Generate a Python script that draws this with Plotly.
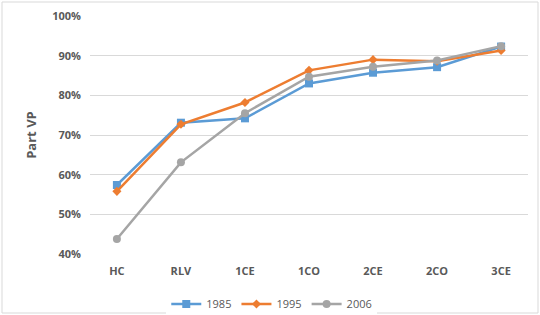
import plotly.graph_objects as go

categories = ["HC", "RLV", "1CE", "1CO", "2CE", "2CO", "3CE"]
s1985 = [0.574, 0.731, 0.742, 0.830, 0.857, 0.871, 0.923]
s1995 = [0.558, 0.727, 0.782, 0.863, 0.890, 0.886, 0.913]
s2006 = [0.438, 0.631, 0.755, 0.847, 0.872, 0.888, 0.924]
y_ticks = [0.4, 0.5, 0.6, 0.7, 0.8, 0.9, 1.0]

series = [
    ("1985", s1985, "#5B9BD5", "square", 8),
    ("1995", s1995, "#ED7D31", "diamond", 7),
    ("2006", s2006, "#A5A5A5", "circle", 8),
]

fig = go.Figure()
for name, vals, color, sym, sz in series:
    fig.add_trace(go.Scatter(
        x=categories, y=vals, name=name, mode="lines+markers",
        line=dict(color=color, width=2.5),
        marker=dict(symbol=sym, size=sz, color=color),
    ))

PL, PR, PT, PB = 90, 528, 16, 254
W, H = 540, 315
pw, ph = PR - PL, PB - PT

fig.update_layout(
    width=W, height=H,
    margin=dict(l=PL, r=W - PR, t=PT, b=H - PB, autoexpand=False),
    paper_bgcolor="white", plot_bgcolor="white",
    font=dict(family="Open Sans, sans-serif", color="#595959", size=11),
    showlegend=True,
    legend=dict(orientation="h", x=0.415, xanchor="center",
                y=(PB - 304) / ph, yanchor="middle",
                font=dict(size=11, color="#595959"), itemwidth=30, tracegroupgap=0),
    xaxis=dict(type="category", showgrid=False, showline=False, ticks="",
               ticklabelstandoff=9,
               tickfont=dict(size=11, color="#595959", family="Open Sans, sans-serif", weight="bold")),
    yaxis=dict(range=[0.4, 1.0], tickvals=y_ticks, tickformat=".0%",
               gridcolor="#D9D9D9", gridwidth=1, zeroline=False, showline=False,
               ticklabelstandoff=8,
               tickfont=dict(size=11, color="#595959", weight="bold"),
               title=dict(text="Part VP", font=dict(size=13, color="#595959", weight="bold"), standoff=12)),
    shapes=[dict(type="rect", xref="paper", yref="paper",
                 x0=(2 - PL) / pw, y0=(PB - 313) / ph, x1=(538 - PL) / pw, y1=(PB - 2) / ph,
                 line=dict(color="#D9D9D9", width=1))],
)

fig.write_html("out.html")
